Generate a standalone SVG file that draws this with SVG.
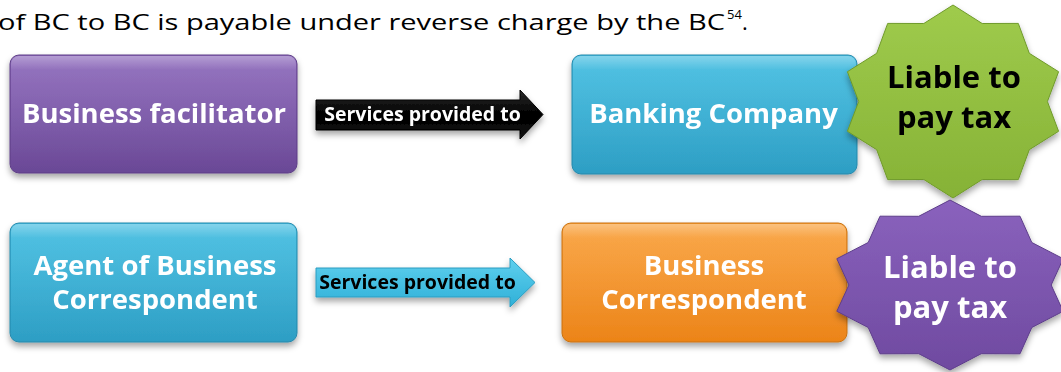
<svg xmlns="http://www.w3.org/2000/svg" width="1061" height="372" viewBox="0 0 1061 372">
<defs>
<style>
.box-text{font-family:"Open Sans","Liberation Sans",sans-serif;font-weight:bold;font-size:27.5px;fill:#ffffff;text-anchor:middle}
.arrow-text{font-family:"Open Sans","Liberation Sans",sans-serif;font-weight:bold;font-size:19.5px;text-anchor:middle}
.star-text{font-family:"Open Sans","Liberation Sans",sans-serif;font-weight:bold;font-size:31px;text-anchor:middle}
.title{font-family:"Open Sans","Liberation Sans",sans-serif;font-size:22px;fill:#000000}
.sup{font-family:"Open Sans","Liberation Sans",sans-serif;font-size:13px;fill:#000000}
.hl{fill:url(#hl)}
</style>
<filter id="sh" x="-10%" y="-10%" width="120%" height="130%">
<feDropShadow dx="0" dy="4" stdDeviation="3" flood-color="#000" flood-opacity="0.35"/>
</filter>
<linearGradient id="gPurple" x1="0" y1="0" x2="0" y2="1">
<stop offset="0" stop-color="#8c68bb"/><stop offset="1" stop-color="#6a4896"/>
</linearGradient>
<linearGradient id="gCyan" x1="0" y1="0" x2="0" y2="1">
<stop offset="0" stop-color="#42bde1"/><stop offset="1" stop-color="#2d9ec4"/>
</linearGradient>
<linearGradient id="gOrange" x1="0" y1="0" x2="0" y2="1">
<stop offset="0" stop-color="#f9a03a"/><stop offset="1" stop-color="#ec8418"/>
</linearGradient>
<linearGradient id="gGreen" x1="0" y1="0" x2="0" y2="1">
<stop offset="0" stop-color="#9fcb4c"/><stop offset="1" stop-color="#86b236"/>
</linearGradient>
<linearGradient id="gStarP" x1="0" y1="0" x2="0" y2="1">
<stop offset="0" stop-color="#8a62bd"/><stop offset="1" stop-color="#6f4aa0"/>
</linearGradient>
<linearGradient id="gBlack" x1="0" y1="0" x2="0" y2="1">
<stop offset="0" stop-color="#2a2a2a"/><stop offset="0.5" stop-color="#000"/><stop offset="1" stop-color="#111"/>
</linearGradient>
<linearGradient id="gArrowC" x1="0" y1="0" x2="0" y2="1">
<stop offset="0" stop-color="#5fd0ee"/><stop offset="1" stop-color="#2fb0d8"/>
</linearGradient>
<linearGradient id="hl" x1="0" y1="0" x2="0" y2="1">
<stop offset="0" stop-color="#fff" stop-opacity="0.35"/><stop offset="0.12" stop-color="#fff" stop-opacity="0.08"/><stop offset="1" stop-color="#fff" stop-opacity="0"/>
</linearGradient>
</defs>
<rect width="1061" height="372" fill="#ffffff"/>
<text class="title" x="-2" y="30" textLength="727" lengthAdjust="spacingAndGlyphs">of BC to BC is payable under reverse charge by the BC</text>
<text class="sup" x="727" y="19">54</text>
<text class="title" x="742" y="30">.</text>

<g id="connectors">
<g id="arrow1" filter="url(#sh)">
<polygon points="316,100 520,100 520,90 543,114.5 520,139 520,130 316,130" fill="url(#gBlack)" stroke="#000" stroke-width="1"/>
<text class="arrow-text" x="422.5" y="121" fill="#ffffff">Services provided to</text>
</g>
<g id="arrow2" filter="url(#sh)">
<polygon points="316,268 510,268 510,258 535,282.5 510,307 510,297 316,297" fill="url(#gArrowC)" stroke="#2a9cc0" stroke-width="1"/>
<text class="arrow-text" x="417.5" y="289" fill="#000000">Services provided to</text>
</g>
</g>

<g id="node-bf" filter="url(#sh)">
<rect x="10" y="55" width="287" height="118" rx="9" fill="url(#gPurple)" stroke="#5e3f86" stroke-width="1"/>
<rect x="11" y="56" width="285" height="116" rx="8" class="hl"/>
<text class="box-text" x="154" y="123">Business facilitator</text>
</g>

<g id="node-bank" filter="url(#sh)">
<rect x="572" y="55" width="285" height="119" rx="9" fill="url(#gCyan)" stroke="#2688ab" stroke-width="1"/>
<rect x="573" y="56" width="283" height="117" rx="8" class="hl"/>
<text class="box-text" x="713.5" y="123">Banking Company</text>
</g>

<g id="node-agent" filter="url(#sh)">
<rect x="10" y="223" width="287" height="119" rx="9" fill="url(#gCyan)" stroke="#2688ab" stroke-width="1"/>
<rect x="11" y="224" width="285" height="117" rx="8" class="hl"/>
<text class="box-text" x="155" y="275">Agent of Business</text>
<text class="box-text" x="155" y="309">Correspondent</text>
</g>

<g id="node-bc" filter="url(#sh)">
<rect x="562" y="223" width="285" height="119" rx="9" fill="url(#gOrange)" stroke="#c8700f" stroke-width="1"/>
<rect x="563" y="224" width="283" height="117" rx="8" class="hl"/>
<text class="box-text" x="704" y="275">Business</text>
<text class="box-text" x="704" y="309">Correspondent</text>
</g>

<g id="star-green" filter="url(#sh)">
<polygon points="953,5 982.2,23.5 1018.3,23.4 1029.3,53.3 1058.6,71.7 1047.4,101.5 1058.6,131.3 1029.3,149.7 1018.3,179.6 982.2,179.5 953,198 923.8,179.5 887.7,179.6 876.7,149.7 847.4,131.3 858.7,101.5 847.4,71.7 876.7,53.3 887.7,23.4 923.8,23.5" fill="url(#gGreen)" stroke="#6f9a2a" stroke-width="1"/>
<text class="star-text" x="954" y="88" fill="#000000">Liable to</text>
<text class="star-text" x="954" y="128" fill="#000000">pay tax</text>
</g>

<g id="star-purple" filter="url(#sh)">
<polygon points="950,200 981.3,216.3 1020,216.2 1031.8,242.5 1063.2,258.7 1051.2,285 1063.2,311.3 1031.8,327.5 1020,353.8 981.3,353.7 950,370 918.7,353.7 880,353.8 868.2,327.5 836.8,311.3 848.9,285 836.8,258.7 868.2,242.5 880,216.2 918.7,216.3" fill="url(#gStarP)" stroke="#5d3d8a" stroke-width="1"/>
<text class="star-text" x="950" y="278" fill="#ffffff">Liable to</text>
<text class="star-text" x="950" y="318" fill="#ffffff">pay tax</text>
</g>
</svg>
